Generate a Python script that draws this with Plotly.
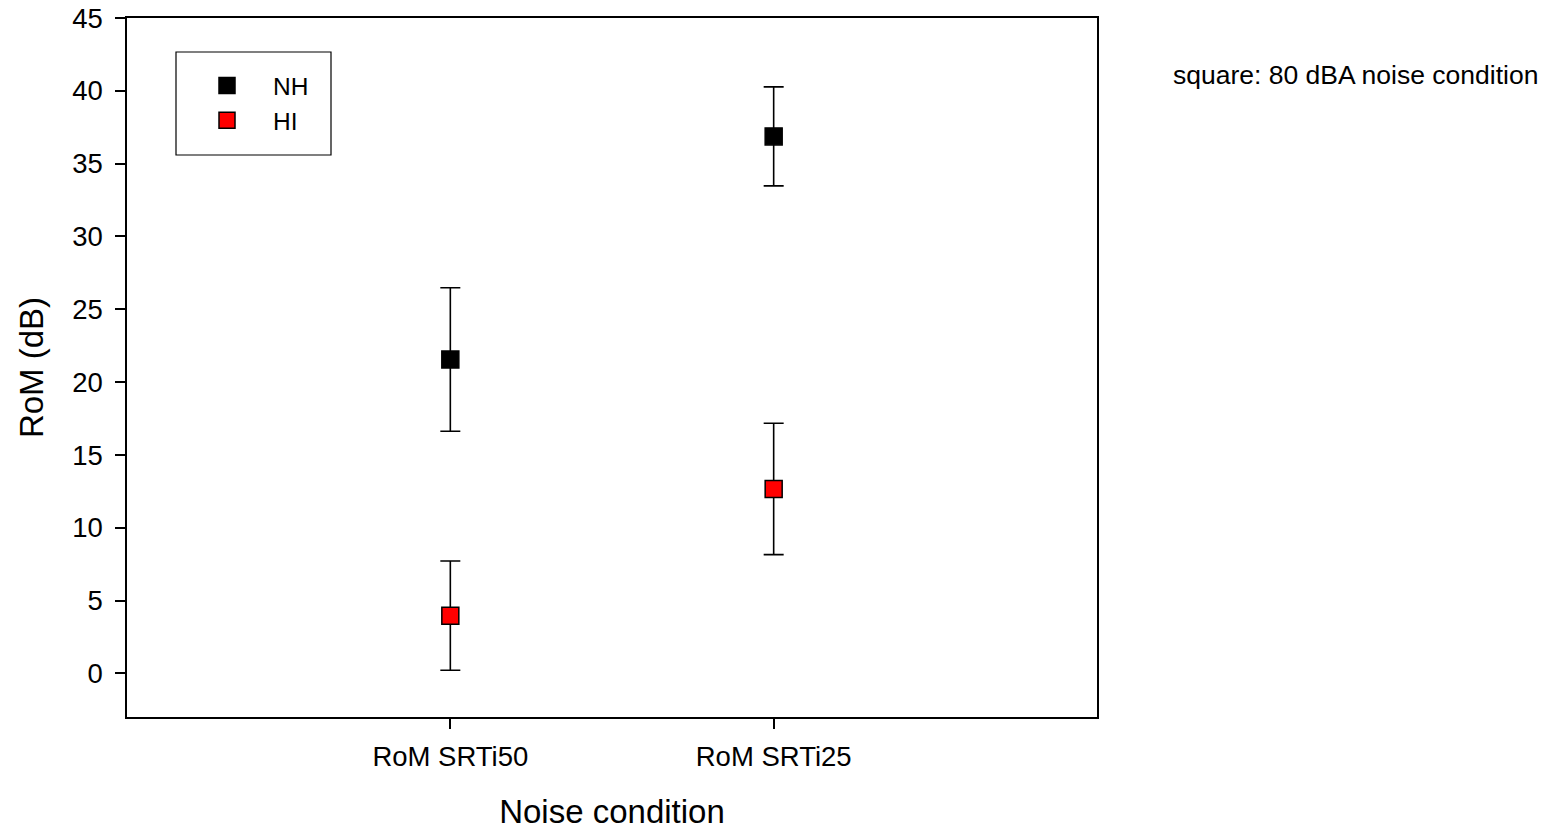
import plotly.graph_objects as go

categories = ["RoM SRTi50", "RoM SRTi25"]
cat_pos = [1, 2]
nh_mean = [21.55, 36.87]
nh_err = [4.93, 3.40]
hi_mean = [3.96, 12.66]
hi_err = [3.75, 4.51]

FONT = "Liberation Sans, Arial, sans-serif"

fig = go.Figure()
fig.add_trace(go.Scatter(
    x=cat_pos, y=nh_mean, mode="markers", name="NH",
    marker=dict(symbol="square", size=17, color="black", line=dict(color="black", width=1.5)),
    error_y=dict(type="data", array=nh_err, visible=True, color="black", thickness=1.6, width=10),
))
fig.add_trace(go.Scatter(
    x=cat_pos, y=hi_mean, mode="markers", name="HI",
    marker=dict(symbol="square", size=17, color="#ff0000", line=dict(color="black", width=1.5)),
    error_y=dict(type="data", array=hi_err, visible=True, color="black", thickness=1.6, width=10),
))

fig.update_layout(
    width=1544, height=830,
    margin=dict(l=127, r=447, t=18, b=113, autoexpand=False),
    paper_bgcolor="white", plot_bgcolor="white",
    font=dict(family=FONT, color="black", size=26),
    showlegend=True,
    legend=dict(
        x=(181 - 127) / 970, y=1 - (63 - 18) / 699, xanchor="left", yanchor="top",
        borderwidth=0, bgcolor="rgba(0,0,0,0)",
        font=dict(size=24.5, family=FONT),
        itemsizing="trace", itemwidth=82, tracegroupgap=0,
    ),
    shapes=[dict(
        type="rect", xref="paper", yref="paper",
        x0=(176 - 127) / 970, x1=(331 - 127) / 970,
        y0=1 - (155 - 18) / 699, y1=1 - (52 - 18) / 699,
        line=dict(color="black", width=1.2), fillcolor="rgba(0,0,0,0)", layer="above",
    )],
    xaxis=dict(
        range=[0, 3], tickmode="array", tickvals=cat_pos, ticktext=categories,
        showline=True, linecolor="black", linewidth=1.5, mirror=True,
        ticks="outside", ticklen=10, tickwidth=1.5, tickcolor="black",
        showgrid=False, zeroline=False, automargin=False,
        tickfont=dict(size=27.5, family=FONT), ticklabelstandoff=4,
        title=dict(text="Noise condition", font=dict(size=33, family=FONT), standoff=31),
    ),
    yaxis=dict(
        range=[-3, 45], tickmode="linear", tick0=0, dtick=5,
        showline=True, linecolor="black", linewidth=1.5, mirror=True,
        ticks="outside", ticklen=10, tickwidth=1.5, tickcolor="black",
        showgrid=False, zeroline=False, automargin=False,
        tickfont=dict(size=27.5, family=FONT), ticklabelstandoff=7,
        title=dict(text="RoM (dB)", font=dict(size=33, family=FONT), standoff=19),
    ),
    annotations=[dict(
        text="square: 80 dBA noise condition", xref="paper", yref="paper",
        x=(1171 - 127) / 970, y=1 - (75 - 18) / 699, xanchor="left", yanchor="middle", showarrow=False,
        font=dict(size=26.5, family=FONT, color="black"),
    )],
)

fig.write_html("out.html")
